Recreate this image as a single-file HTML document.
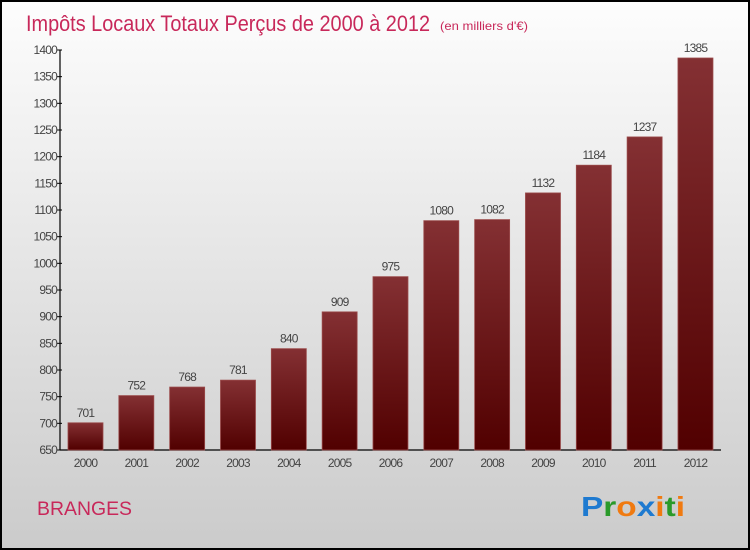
<!DOCTYPE html>
<html><head><meta charset="utf-8"><style>
html,body{margin:0;padding:0}
body{width:750px;height:550px;overflow:hidden;font-family:"Liberation Sans",sans-serif}
#wrap{position:absolute;left:0;top:0;width:746px;height:546px;border:2px solid #000;background:linear-gradient(#fdfdfd,#cbcbcb)}
</style></head><body>
<div id="wrap">
<svg id="chart" width="746" height="546" style="position:absolute;left:0;top:0">
<defs><linearGradient id="bg" x1="0" y1="0" x2="0" y2="1"><stop offset="0" stop-color="#843033"/><stop offset="1" stop-color="#510000"/></linearGradient></defs>
<text x="24" y="29" font-size="22" fill="#c8285a" textLength="404" lengthAdjust="spacingAndGlyphs">Impôts Locaux Totaux Perçus de 2000 à 2012</text>
<text x="438" y="28" font-size="12" fill="#c8285a" textLength="88" lengthAdjust="spacingAndGlyphs">(en milliers d'€)</text>
<text x="35" y="513" font-size="19" fill="#c8285a" textLength="95" lengthAdjust="spacingAndGlyphs">BRANGES</text>
<text x="579" y="514" font-size="28" font-weight="bold" textLength="104" lengthAdjust="spacingAndGlyphs"><tspan fill="#1e7ad0">P</tspan><tspan fill="#2a9a2a">r</tspan><tspan fill="#f07a10">o</tspan><tspan fill="#1e7ad0">x</tspan><tspan fill="#f07a10">i</tspan><tspan fill="#2a9a2a">t</tspan><tspan fill="#f07a10">i</tspan></text>
</svg></div>
<script>
const years=["2000","2001","2002","2003","2004","2005","2006","2007","2008","2009","2010","2011","2012"];
const values=[701,752,768,781,840,909,975,1080,1082,1132,1184,1237,1385];
const ticks=[650,700,750,800,850,900,950,1000,1050,1100,1150,1200,1250,1300,1350,1400];
const svg=document.getElementById('chart');
const NS='http://www.w3.org/2000/svg';
const ox=-2,oy=-2;
function y(v){return 450+oy-(v-650)/750*400;}
function xc(i){return 85.5+ox+i*50.83;}
function mk(t,a,txt){const e=document.createElementNS(NS,t);for(const k in a)e.setAttribute(k,a[k]);if(txt!==undefined)e.textContent=txt;svg.appendChild(e);return e;}
let e=mk('line',{x1:60+ox,y1:y(1400),x2:60+ox,y2:y(650),stroke:'#000','stroke-width':1.2});


e=mk('line',{x1:60+ox,y1:y(650),x2:721+ox,y2:y(650),stroke:'#000','stroke-width':1.2});


ticks.forEach(t=>{
 mk('line',{x1:57+ox,y1:y(t),x2:62+ox,y2:y(t),stroke:'#000'});
 e=mk('text',{x:57+ox,y:y(t)+4,'font-size':12,'text-anchor':'end',fill:'#444','letter-spacing':'-0.8'},t);
 
 
});
years.forEach((yr,i)=>{
 const cx=xc(i),v=values[i];
 e=mk('rect',{x:cx-17.5,y:y(v),width:35,height:y(650)-y(v),fill:'url(#bg)',stroke:'#9a4a4a','stroke-width':0.8});
 
 
 e=mk('text',{x:cx,y:y(v)-6,'font-size':12,'text-anchor':'middle',fill:'#444','letter-spacing':'-0.8'},v);
 
 
 e=mk('text',{x:cx,y:467+oy,'font-size':12,'text-anchor':'middle',fill:'#444','letter-spacing':'-0.8'},yr);
 
 
});
</script>
</body></html>
